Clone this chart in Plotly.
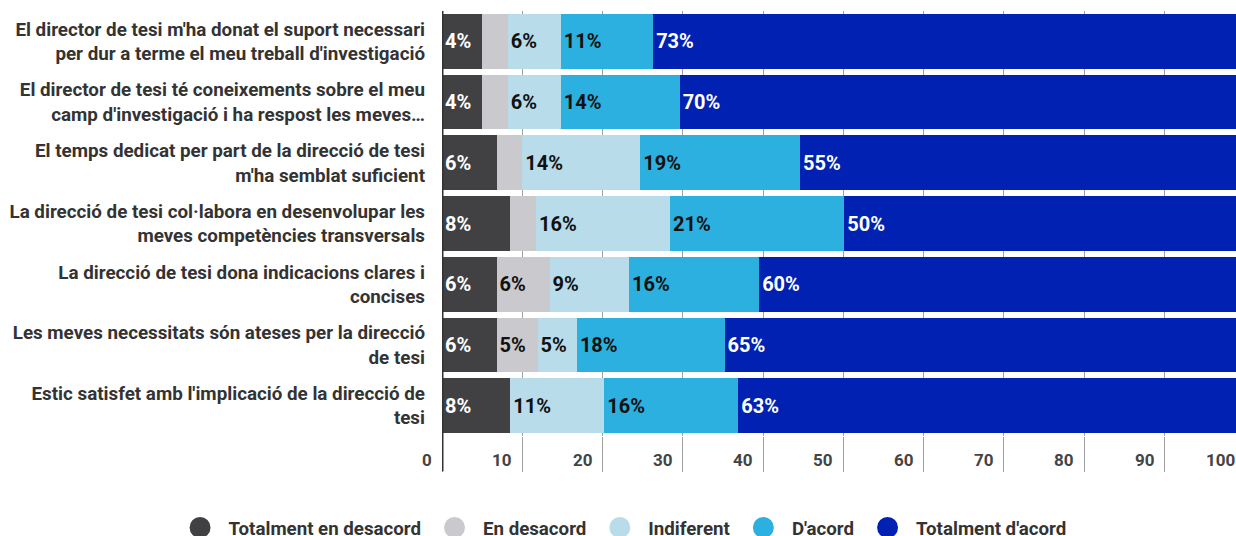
import plotly.graph_objects as go

categories = [
    "El director de tesi m'ha donat el suport necessari<br>per dur a terme el meu treball d'investigació",
    "El director de tesi té coneixements sobre el meu<br>camp d'investigació i ha respost les meves…",
    "El temps dedicat per part de la direcció de tesi<br>m'ha semblat suficient",
    "La direcció de tesi col·labora en desenvolupar les<br>meves competències transversals",
    "La direcció de tesi dona indicacions clares i<br>concises",
    "Les meves necessitats són ateses per la direcció<br>de tesi",
    "Estic satisfet amb l'implicació de la direcció de<br>tesi",
]

series_names = ["Totalment en desacord", "En desacord", "Indiferent", "D'acord", "Totalment d'acord"]

totalment_desacord = [5.0, 5.0, 6.8, 8.5, 6.8, 6.8, 8.5]
en_desacord = [3.2, 3.2, 3.2, 3.2, 6.6, 5.1, 0.0]
indiferent = [6.6, 6.6, 14.7, 16.7, 9.9, 4.9, 11.7]
d_acord = [11.5, 14.8, 19.9, 21.7, 16.2, 18.4, 16.7]
totalment_acord = [73.7, 70.4, 55.4, 49.9, 60.5, 64.8, 63.1]

labels_totalment_desacord = ["4%", "4%", "6%", "8%", "6%", "6%", "8%"]
labels_en_desacord = ["", "", "", "", "6%", "5%", ""]
labels_indiferent = ["6%", "6%", "14%", "16%", "9%", "5%", "11%"]
labels_d_acord = ["11%", "14%", "19%", "21%", "16%", "18%", "16%"]
labels_totalment_acord = ["73%", "70%", "55%", "50%", "60%", "65%", "63%"]

tick_values = [0, 10, 20, 30, 40, 50, 60, 70, 80, 90, 100]
tick_labels = ["0", "10", "20", "30", "40", "50", "60", "70", "80", "90", "100"]

X_MAX = 98.9  # visible end of the value axis (chart is cropped on the right)

colors = ["#414143", "#cac9ce", "#b8dcea", "#2cb0df", "#0021b1"]
text_colors = ["#ffffff", "#111111", "#111111", "#111111", "#ffffff"]

values = [totalment_desacord, en_desacord, indiferent, d_acord, totalment_acord]
labels = [labels_totalment_desacord, labels_en_desacord, labels_indiferent,
          labels_d_acord, labels_totalment_acord]

FONT = "Roboto"

fig = go.Figure()
for name, vals, labs, col, tcol in zip(series_names, values, labels, colors, text_colors):
    fig.add_trace(go.Bar(
        y=categories, x=vals, orientation="h", name=name,
        marker=dict(color=col, line=dict(width=0)),
        text=labs, textposition="inside", insidetextanchor="start",
        textangle=0,
        textfont=dict(family=FONT, size=20, color=tcol, weight="bold"),
        showlegend=False, hoverinfo="skip",
    ))
    fig.add_trace(go.Scatter(
        x=[None], y=[None], mode="markers", name=name,
        marker=dict(symbol="circle", size=16, color=col, line=dict(color=col, width=5)),
        showlegend=True, hoverinfo="skip",
    ))

# value-axis labels: right-aligned just left of each grid line
for tv, tl in zip(tick_values, tick_labels):
    fig.add_annotation(
        x=tv / X_MAX, y=-0.056, xref="x domain", yref="paper", text=tl, showarrow=False,
        xanchor="right", yanchor="middle", xshift=-8,
        font=dict(family=FONT, size=17, color="#444444", weight="bold"),
    )

fig.add_shape(type="line", xref="x", yref="paper", x0=0, x1=0, y0=-0.083, y1=1,
              line=dict(color="#333333", width=3), layer="above")

fig.update_layout(
    width=1236, height=536,
    margin=dict(l=442, r=0, t=11, b=100, autoexpand=False),
    barmode="stack", bargap=0.097,
    plot_bgcolor="white", paper_bgcolor="white",
    uniformtext=dict(mode="show", minsize=20),
    font=dict(family=FONT, color="#333333"),
    xaxis=dict(range=[0, X_MAX], tickvals=tick_values, showticklabels=False,
               showgrid=True, gridcolor="#a0a0a0", gridwidth=1, zeroline=False,
               ticks="outside", ticklen=35, tickcolor="#a0a0a0", tickwidth=1,
               showline=False, fixedrange=True),
    yaxis=dict(autorange="reversed", showgrid=False, zeroline=False, ticks="",
               ticklabelstandoff=16,
               tickfont=dict(family=FONT, size=18.8, color="#333333", weight="bold")),
    legend=dict(orientation="h", xref="paper", yref="paper",
                x=-0.3406, xanchor="left", y=-0.216, yanchor="middle",
                font=dict(family=FONT, size=18.7, color="#333333", weight="bold"),
                itemsizing="trace", traceorder="normal", itemwidth=47),
)

fig.write_html("out.html", config={"displayModeBar": False},
               post_script="document.body.style.margin='0';document.body.style.overflow='hidden';")
